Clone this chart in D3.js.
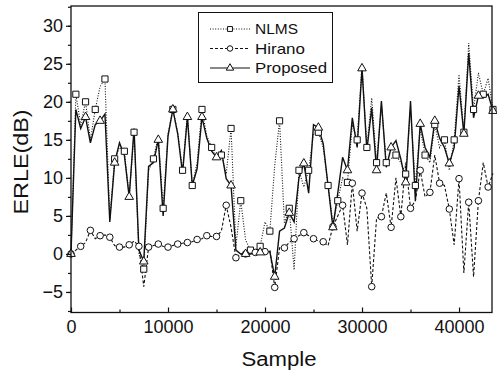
<!DOCTYPE html>
<html>
<head>
<meta charset="utf-8">
<script src="https://cdn.jsdelivr.net/npm/d3@7"></script>
<style>
  body { margin: 0; background: #fff; }
  text { font-family: "Liberation Sans", Arial, sans-serif; fill: #111; }
</style>
</head>
<body>
<script>
// sample positions, one every 500 samples
var samples = d3.range(0, 44000, 500);

var nlms = [0, 21, 17, 20, 15, 19, 22, 23, 4.5, 12.5, 14, 13.5, 7.5, 16, 0, -2, 11, 12.5, 15.5, 6,
  15.8, 19, 16, 11, 18.5, 9, 12, 19, 15.5, 14, 12.5, 13, 10.5, 16.5, 1, 7, 1.8, 0.5, 0.5, 1,
  4.2, 3, 11.6, 17.5, 4, 6, -2.1, 11, 8.8, 11, 15.8, 16, 14, 9, 4, 7, 10, 9.4, 17, 15,
  24.8, 14, 20.5, 12, 19.5, 12, 12.5, 13, 12, 10.5, 19, 9, 16.5, 13, 12, 17, 14, 15, 11, 15,
  23.6, 16, 27.7, 19, 23.8, 21, 23.1, 19];

var hirano = [0, 0.5, 1, 1.5, 3.1, 2, 2.4, 2.5, 2.2, 1.1, 0.9, 0.9, 1.2, 1.7, 1, -4.3, 0.9, 1.1, 1.3, 1,
  0.9, 1.1, 1.3, 1.4, 1.5, 1.6, 1.9, 2, 2.4, 2.3, 2.3, 3, 6.4, 3.5, -0.5, 0, 0, 0, 0.2, 0.2,
  0.3, 0.5, -4.4, 0.8, 0.8, 1.5, 2, 2.4, 2.8, 2.4, 2, 1.7, 1.6, 1.1, 3.6, 5, 6.4, 1.2, 9.3, 3,
  8, 6, -4.3, 4.7, 4.9, 8, 3.5, 10, 4.9, 12, 6, 7, 11, 7.5, 8.1, 13, 9.3, 9, 5.9, 1.2,
  9.9, -2.5, 6.8, -3, 7, 12, 8.8, 10.6];

var proposed = [0, 19, 16.5, 18, 14.6, 17, 17.5, 18.4, 4.2, 12, 14.6, 13, 7.5, 16.5, 0.5, -1, 11.5, 12, 15, 5,
  15.5, 19, 15.8, 10.6, 18, 9, 11.2, 18, 15.2, 13.5, 12.7, 13.6, 9.9, 9, 0.5, 0, 0, 0, 0.2, 0.2,
  0.3, 0.3, -3, 3, 3.4, 5.4, 4.2, 10, 11.9, 8, 17, 16.6, 14.5, 9, 3.5, 8, 12.7, 11, 17.9, 14,
  24.4, 13.6, 19.2, 11, 20.1, 11.4, 14, 14.9, 12.5, 9.4, 20.1, 7, 17.1, 14, 12.7, 17.5, 15.2, 14, 11.9, 14,
  22.1, 15.8, 26.4, 17.9, 20.8, 20.5, 21, 18.8];

var seriesNames = ["NLMS", "Hirano", "Proposed"];
var xTicks = [0, 10000, 20000, 30000, 40000];
var yTicks = [-5, 0, 5, 10, 15, 20, 25, 30];

var svgWidth = 497, svgHeight = 370;
var svg = d3.select("body").append("svg")
    .attr("width", svgWidth)
    .attr("height", svgHeight);

var x = d3.scaleLinear().domain([0, 43400]).range([71, 492]);
var y = d3.scaleLinear().domain([-7.7, 32.6]).range([312.5, 6]);

var series = [
  {name: "NLMS", values: nlms, dash: "1,1.6", width: 1.1, symbol: d3.symbolSquare, size: 38, every: 2, offset: 1},
  {name: "Hirano", values: hirano, dash: "3,2", width: 1.1, symbol: d3.symbolCircle, size: 34, every: 2, offset: 0},
  {name: "Proposed", values: proposed, dash: null, width: 1.4, symbol: d3.symbolTriangle, size: 32, every: 3, offset: 0}
];

var line = d3.line()
    .x(function(d, i) { return x(samples[i]); })
    .y(function(d) { return y(d); });

series.forEach(function(s) {
  svg.append("path")
    .attr("d", line(s.values))
    .attr("fill", "none")
    .attr("stroke", "#111")
    .attr("stroke-width", s.width)
    .attr("stroke-dasharray", s.dash);
});

series.forEach(function(s) {
  var pts = s.values.map(function(v, i) { return {i: i, v: v}; })
    .filter(function(d) { return d.i % s.every == s.offset; });
  svg.append("g").selectAll("path")
    .data(pts)
    .enter().append("path")
    .attr("d", d3.symbol().type(s.symbol).size(s.size))
    .attr("transform", function(d) { return "translate(" + x(samples[d.i]) + "," + y(d.v) + ")"; })
    .attr("fill", "#fff")
    .attr("stroke", "#111")
    .attr("stroke-width", 1);
});

// frame
svg.append("rect")
    .attr("x", 71).attr("y", 6)
    .attr("width", 421).attr("height", 306.5)
    .attr("fill", "none")
    .attr("stroke", "#111")
    .attr("stroke-width", 1.3);

// y axis, ticks outside
svg.append("g")
    .attr("transform", "translate(71,0)")
    .call(d3.axisLeft(y).tickValues(yTicks).tickSize(5).tickPadding(3).tickFormat(d3.format("d")));
svg.append("g")
    .attr("transform", "translate(71,0)")
    .call(d3.axisLeft(y).tickValues(d3.range(-7.5, 33, 2.5)).tickSize(3).tickFormat(""));

// x axis, ticks inside
svg.append("g")
    .attr("transform", "translate(0,312.5)")
    .call(d3.axisTop(x).tickValues(xTicks).tickSize(5).tickFormat(""));
svg.append("g")
    .attr("transform", "translate(0,312.5)")
    .call(d3.axisTop(x).tickValues(d3.range(5000, 44000, 10000)).tickSize(3).tickFormat(""));
svg.append("g")
    .attr("transform", "translate(0,312.5)")
    .call(d3.axisBottom(x).tickValues(xTicks).tickSize(0).tickPadding(8).tickFormat(d3.format("d")));

svg.selectAll(".domain").remove();
svg.selectAll(".tick line").attr("stroke", "#111").attr("stroke-width", 1.2);
svg.selectAll(".tick text")
    .style("font-family", "'Liberation Sans', Arial, sans-serif")
    .style("font-size", "18px")
    .attr("fill", "#111");

svg.append("text")
    .attr("transform", "translate(28,162) rotate(-90)")
    .attr("text-anchor", "middle")
    .attr("textLength", 105)
    .attr("lengthAdjust", "spacingAndGlyphs")
    .style("font-size", "21px")
    .text("ERLE(dB)");

svg.append("text")
    .attr("x", 279).attr("y", 366)
    .attr("text-anchor", "middle")
    .attr("textLength", 75)
    .attr("lengthAdjust", "spacingAndGlyphs")
    .style("font-size", "20px")
    .text("Sample");

// legend
var legend = svg.append("g");
legend.append("rect")
    .attr("x", 198.5).attr("y", 12.5)
    .attr("width", 134).attr("height", 70)
    .attr("fill", "#fff")
    .attr("stroke", "#111")
    .attr("stroke-width", 1);

var legendWidths = [43, 50, 72];
series.forEach(function(s, i) {
  var ly = 29 + i * 19.5;
  legend.append("line")
    .attr("x1", 210).attr("x2", 250)
    .attr("y1", ly).attr("y2", ly)
    .attr("stroke", "#111")
    .attr("stroke-width", 1)
    .attr("stroke-dasharray", s.dash);
  legend.append("path")
    .attr("d", d3.symbol().type(s.symbol).size(24))
    .attr("transform", "translate(230," + ly + ")")
    .attr("fill", "#fff")
    .attr("stroke", "#111");
  legend.append("text")
    .attr("x", 255).attr("y", ly + 5)
    .attr("textLength", legendWidths[i])
    .attr("lengthAdjust", "spacingAndGlyphs")
    .style("font-size", "15px")
    .text(seriesNames[i]);
});
</script>
</body>
</html>
